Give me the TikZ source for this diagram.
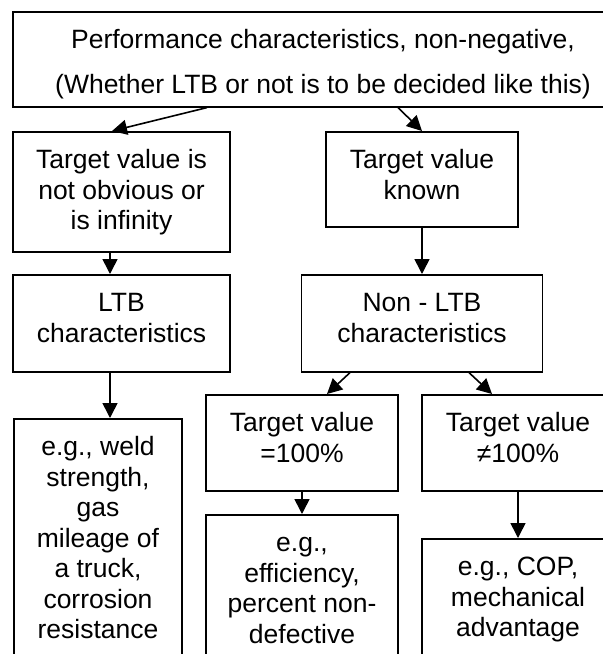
\documentclass[tikz,border=0pt]{standalone}
\usepackage{fontspec}
\setmainfont{Liberation Sans}
\usetikzlibrary{arrows.meta}
\newcommand{\boxlines}[1]{\begin{tabular}[t]{@{}c@{}}#1\end{tabular}}
\tikzstyle{rect} = [rectangle, draw=black, line width=1.6pt, inner sep=0pt, anchor=north, text height=37pt, font=\fontsize{26.5}{30.5}\selectfont]
\tikzstyle{arr} = [-{Triangle[length=15pt, width=15pt]}, line width=1.6pt]

\begin{document}
\begin{tikzpicture}[x=1pt, y=-1pt]

        \useasboundingbox (0,0) rectangle (603,654);
        \fill[white] (0,0) rectangle (603,654);
        \clip (0,0) rectangle (603,654);

        %% top

        \node (perf) [rect, minimum width=620pt, text height=37pt, text depth=58pt] at (323,11) {\boxlines{Performance characteristics, non-negative,\\[14pt](Whether LTB or not is to be decided like this)}};

        \node (notobv) [rect, minimum width=217pt, text depth=83pt] at (121.5,131) {\boxlines{Target value is\\not obvious or\\is infinity}};
        \node (known) [rect, minimum width=192pt, text depth=58pt] at (422,131) {\boxlines{Target value\\known}};

        \draw[arr] ([xshift=-116pt]perf.south) -- ([xshift=-9.5pt]notobv.north);
        \draw[arr] ([xshift=75pt]perf.south) -- (known.north);

        %% LTB or not

        \node (ltb) [rect, minimum width=217pt, text depth=60pt] at (121.5,274) {\boxlines{LTB\\characteristics}};
        \node (nonltb) [rect, minimum width=241pt, text depth=60pt] at (422,274) {\boxlines{Non - LTB\\characteristics}};

        \draw[arr] ([xshift=-11.5pt]notobv.south) -- ([xshift=-11.5pt]ltb.north);
        \draw[arr] (known) -- (nonltb);

        %% examples

        \node (weld) [rect, minimum width=168pt, text depth=230pt] at (98,418) {\boxlines{e.g., weld\\strength,\\gas\\mileage of\\a truck,\\corrosion\\resistance}};
        \node (eqhund) [rect, minimum width=192pt, text depth=59pt] at (302,394) {\boxlines{Target value\\=100\%}};
        \node (nehund) [rect, minimum width=192pt, text depth=59pt] at (518,394) {\boxlines{Target value\\≠100\%}};
        \node (effic) [rect, minimum width=192pt, text depth=150pt] at (302,514) {\boxlines{e.g.,\\efficiency,\\percent non-\\defective}};
        \node (cop) [rect, minimum width=192pt, text depth=130pt] at (518,538) {\boxlines{e.g., COP,\\mechanical\\advantage}};

        \draw[arr] ([xshift=-11.5pt]ltb.south) -- ([xshift=12pt]weld.north);
        \draw[arr] ([xshift=-72pt]nonltb.south) -- ([xshift=25pt]eqhund.north);
        \draw[arr] ([xshift=47pt]nonltb.south) -- ([xshift=-26pt]nehund.north);
        \draw[arr] (eqhund) -- (effic);
        \draw[arr] (nehund) -- (cop);

    \end{tikzpicture}
\end{document}
